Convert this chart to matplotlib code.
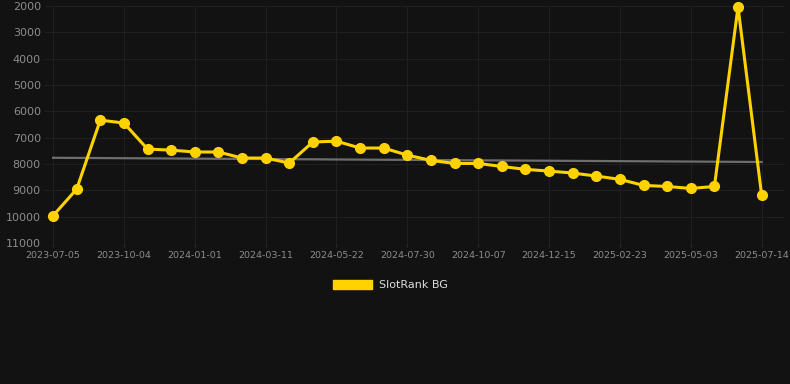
import matplotlib
matplotlib.use("Agg")
import matplotlib.pyplot as plt
from matplotlib.patches import Patch
import numpy as np

# data
dates = ["2023-07-05", "2023-08-04", "2023-09-03", "2023-10-04", "2023-11-02",
         "2023-12-02", "2024-01-01", "2024-01-24", "2024-02-17", "2024-03-11",
         "2024-04-04", "2024-04-28", "2024-05-22", "2024-06-14", "2024-07-07",
         "2024-07-30", "2024-08-22", "2024-09-14", "2024-10-07", "2024-10-30",
         "2024-11-22", "2024-12-15", "2025-01-07", "2025-01-30", "2025-02-23",
         "2025-03-18", "2025-04-10", "2025-05-03", "2025-05-27", "2025-06-20",
         "2025-07-14"]
ranks = [9960, 8950, 6330, 6440, 7430, 7470, 7540, 7540, 7770, 7770,
         7960, 7160, 7130, 7390, 7390, 7660, 7860, 7975, 7975, 8090,
         8200, 8265, 8340, 8455, 8580, 8810, 8850, 8925, 8850, 2030,
         9180]
trend = [7760, 7920]  # start / end of the grey trend line
series_name = "SlotRank BG"
y_ticks = [2000, 3000, 4000, 5000, 6000, 7000, 8000, 9000, 10000, 11000]

bg = "#121212"
gold = "#FFD200"

fig = plt.figure(figsize=(7.9, 3.84), dpi=100, facecolor=bg)
ax = fig.add_axes([0.057, 0.367, 0.937, 0.617], facecolor=bg)

x = np.arange(len(dates))
ax.plot([x[0], x[-1]], trend, color="#6e6e6e", lw=1.6, zorder=2)
ax.plot(x, ranks, color=gold, lw=2.2, marker="o", markersize=7, zorder=3,
        clip_on=False)

ax.set_ylim(11000, 2000)
ax.set_yticks(y_ticks)
ax.set_xlim(-0.34, 31.0)
tick_idx = x[::3]
ax.set_xticks(tick_idx)
ax.set_xticklabels([dates[i] for i in tick_idx])

ax.grid(True, color="#1f1f1f", lw=0.8, zorder=0)
for s in ax.spines.values():
    s.set_visible(False)
ax.tick_params(axis="y", length=0, labelsize=8, labelcolor="#8c8c8c", pad=3)
ax.tick_params(axis="x", length=3, color="#2a2a2a", labelsize=6.8,
               labelcolor="#8c8c8c", pad=3)

leg = fig.legend(handles=[Patch(facecolor=gold, edgecolor=gold)],
                 labels=[series_name], loc="center", bbox_to_anchor=(0.494, 0.258),
                 frameon=False, fontsize=8, handlelength=3.5, handleheight=1.0,
                 handletextpad=0.6)
for t in leg.get_texts():
    t.set_color("#dddddd")

fig.savefig("out.png", dpi=100, facecolor=bg)
